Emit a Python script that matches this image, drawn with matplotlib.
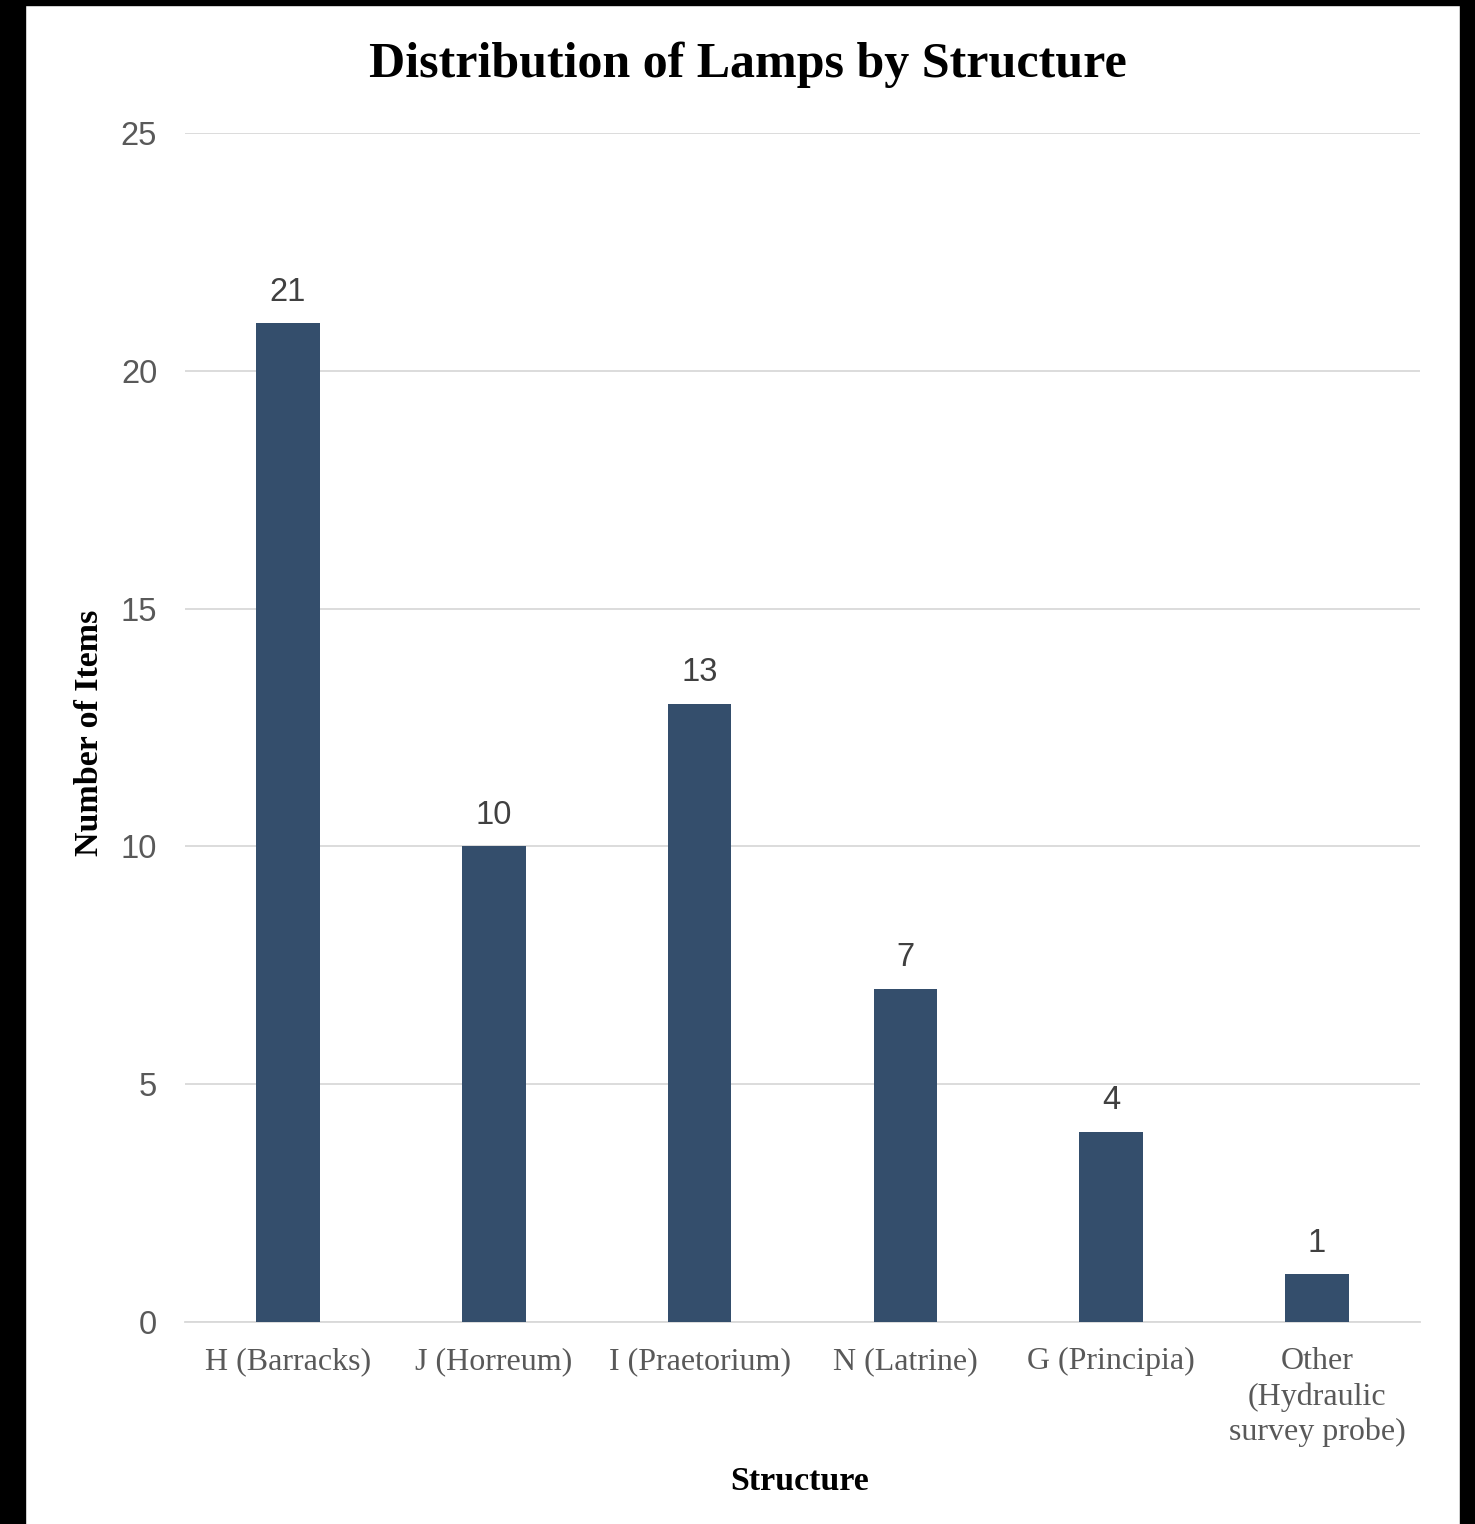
import matplotlib.pyplot as plt
from matplotlib.patches import Rectangle

structures = ["H (Barracks)", "J (Horreum)", "I (Praetorium)", "N (Latrine)",
              "G (Principia)", "Other\n(Hydraulic\nsurvey probe)"]
counts = [21, 10, 13, 7, 4, 1]

W, H = 1475, 1524
fig = plt.figure(figsize=(W / 100, H / 100), dpi=100)
ax = fig.add_axes([185 / W, 1 - 1322 / H, (1420 - 185) / W, (1322 - 133) / H])

x = range(len(structures))
bars = ax.bar(x, counts, width=0.31, color="#344E6C", zorder=3)
for b, v in zip(bars, counts):
    ax.text(b.get_x() + b.get_width() / 2, v + 0.33, str(v), ha="center", va="bottom",
            fontsize=23.5, color="#404040", family="Liberation Sans")

ax.set_xlim(-0.5, len(structures) - 0.5)
ax.set_ylim(0, 25)
ax.set_yticks([0, 5, 10, 15, 20, 25])
ax.set_yticklabels(["0", "5", "10", "15", "20", "25"], family="Liberation Sans",
                   fontsize=23.5, color="#595959")
ax.set_xticks(list(x))
ax.set_xticklabels(structures, family="Liberation Serif", fontsize=23, color="#595959",
                   linespacing=1.27, va="top")
ax.tick_params(axis="both", length=0)
ax.tick_params(axis="y", pad=20)
ax.tick_params(axis="x", pad=18)
ax.grid(axis="y", color="#d9d9d9", linewidth=1.3, zorder=0)
for s in ["top", "right", "left"]:
    ax.spines[s].set_visible(False)
ax.spines["bottom"].set_color("#d9d9d9")
ax.spines["bottom"].set_linewidth(1.3)

fig.text(748 / W, 1 - 65 / H, "Distribution of Lamps by Structure", ha="center", va="center",
         fontsize=36, fontweight="bold", family="Liberation Serif")
fig.text(800 / W, 1 - 1482 / H, "Structure", ha="center", va="center",
         fontsize=24.5, fontweight="bold", family="Liberation Serif")
fig.text(90 / W, 1 - 733 / H, "Number of Items", ha="center", va="center", rotation=90,
         fontsize=24.5, fontweight="bold", family="Liberation Serif")

# black frame around the screenshot
fig.patches.append(Rectangle((0, 0), 25 / W, 1, transform=fig.transFigure, color="black"))
fig.patches.append(Rectangle((0, 1 - 5 / H), 1, 5 / H, transform=fig.transFigure, color="black"))
fig.patches.append(Rectangle((1460 / W, 0), 15 / W, 1, transform=fig.transFigure, color="black"))

fig.savefig("out.png", dpi=100)
